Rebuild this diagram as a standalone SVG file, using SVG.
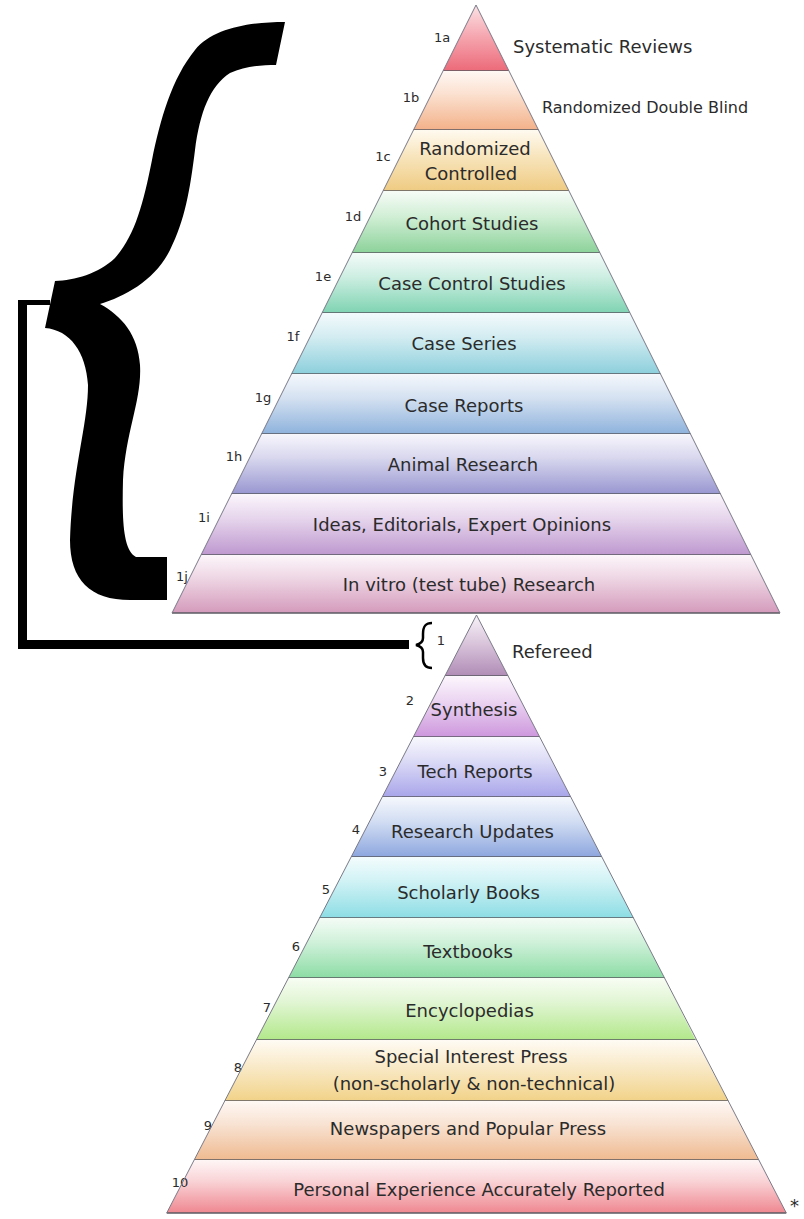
<svg xmlns="http://www.w3.org/2000/svg" width="804" height="1219" viewBox="0 0 804 1219">
<style>
.band{stroke:none}
.sep{stroke:#5a5a62;stroke-width:1.5;fill:none}
.edge{stroke:#7a7a88;stroke-width:1;fill:none}
.lbl{font-family:"DejaVu Sans","Liberation Sans",sans-serif;font-size:18px;fill:#2b2b2b;text-anchor:middle}
.side{font-family:"DejaVu Sans","Liberation Sans",sans-serif;font-size:18px;fill:#2b2b2b}
.num{font-family:"DejaVu Sans","Liberation Sans",sans-serif;font-size:13px;fill:#2b2b2b;text-anchor:middle}
</style>
<defs>
<linearGradient id="g1a" x1="0" y1="0" x2="0" y2="1"><stop offset="0" stop-color="#fbe3e6"/><stop offset="0.45" stop-color="#f6a9b2"/><stop offset="1" stop-color="#ec6a79"/></linearGradient>
<linearGradient id="g1b" x1="0" y1="0" x2="0" y2="1"><stop offset="0" stop-color="#fff8f4"/><stop offset="0.4" stop-color="#fbe0cf"/><stop offset="1" stop-color="#f3b189"/></linearGradient>
<linearGradient id="g1c" x1="0" y1="0" x2="0" y2="1"><stop offset="0" stop-color="#fffaf0"/><stop offset="0.4" stop-color="#f8e6c0"/><stop offset="1" stop-color="#efcb82"/></linearGradient>
<linearGradient id="g1d" x1="0" y1="0" x2="0" y2="1"><stop offset="0" stop-color="#f6fcf7"/><stop offset="0.4" stop-color="#d2efd6"/><stop offset="1" stop-color="#8cd29a"/></linearGradient>
<linearGradient id="g1e" x1="0" y1="0" x2="0" y2="1"><stop offset="0" stop-color="#f4fbf9"/><stop offset="0.4" stop-color="#cdeee2"/><stop offset="1" stop-color="#7fd3b2"/></linearGradient>
<linearGradient id="g1f" x1="0" y1="0" x2="0" y2="1"><stop offset="0" stop-color="#f4fafc"/><stop offset="0.4" stop-color="#d2ecf1"/><stop offset="1" stop-color="#8ccfdc"/></linearGradient>
<linearGradient id="g1g" x1="0" y1="0" x2="0" y2="1"><stop offset="0" stop-color="#f5f8fc"/><stop offset="0.4" stop-color="#d4e1f1"/><stop offset="1" stop-color="#8eb2dc"/></linearGradient>
<linearGradient id="g1h" x1="0" y1="0" x2="0" y2="1"><stop offset="0" stop-color="#f7f6fc"/><stop offset="0.4" stop-color="#d8d7ee"/><stop offset="1" stop-color="#9896d0"/></linearGradient>
<linearGradient id="g1i" x1="0" y1="0" x2="0" y2="1"><stop offset="0" stop-color="#fbf6fc"/><stop offset="0.4" stop-color="#e6d5ec"/><stop offset="1" stop-color="#be98cf"/></linearGradient>
<linearGradient id="g1j" x1="0" y1="0" x2="0" y2="1"><stop offset="0" stop-color="#fcf6fa"/><stop offset="0.4" stop-color="#eed6e4"/><stop offset="1" stop-color="#d49abb"/></linearGradient>
<linearGradient id="g01" x1="0" y1="0" x2="0" y2="1"><stop offset="0" stop-color="#f8f3f9"/><stop offset="0.45" stop-color="#dac6dc"/><stop offset="1" stop-color="#b08cb6"/></linearGradient>
<linearGradient id="g02" x1="0" y1="0" x2="0" y2="1"><stop offset="0" stop-color="#fcf6fd"/><stop offset="0.4" stop-color="#ecd6f2"/><stop offset="1" stop-color="#cd97dd"/></linearGradient>
<linearGradient id="g03" x1="0" y1="0" x2="0" y2="1"><stop offset="0" stop-color="#f8f8fe"/><stop offset="0.4" stop-color="#dcdbf6"/><stop offset="1" stop-color="#a8a5ea"/></linearGradient>
<linearGradient id="g04" x1="0" y1="0" x2="0" y2="1"><stop offset="0" stop-color="#f5f8fd"/><stop offset="0.4" stop-color="#d3def3"/><stop offset="1" stop-color="#8ca6de"/></linearGradient>
<linearGradient id="g05" x1="0" y1="0" x2="0" y2="1"><stop offset="0" stop-color="#f4fcfd"/><stop offset="0.4" stop-color="#d0f2f5"/><stop offset="1" stop-color="#8cdde4"/></linearGradient>
<linearGradient id="g06" x1="0" y1="0" x2="0" y2="1"><stop offset="0" stop-color="#f4fcf6"/><stop offset="0.4" stop-color="#d0f1da"/><stop offset="1" stop-color="#8cdca4"/></linearGradient>
<linearGradient id="g07" x1="0" y1="0" x2="0" y2="1"><stop offset="0" stop-color="#f8fdf4"/><stop offset="0.4" stop-color="#e0f5d2"/><stop offset="1" stop-color="#b2e88a"/></linearGradient>
<linearGradient id="g08" x1="0" y1="0" x2="0" y2="1"><stop offset="0" stop-color="#fffbf4"/><stop offset="0.4" stop-color="#f9ebcc"/><stop offset="1" stop-color="#f1d288"/></linearGradient>
<linearGradient id="g09" x1="0" y1="0" x2="0" y2="1"><stop offset="0" stop-color="#fff8f4"/><stop offset="0.4" stop-color="#f8e2d2"/><stop offset="1" stop-color="#efba90"/></linearGradient>
<linearGradient id="g10" x1="0" y1="0" x2="0" y2="1"><stop offset="0" stop-color="#fff6f6"/><stop offset="0.4" stop-color="#f9d3d6"/><stop offset="1" stop-color="#ef8790"/></linearGradient>
</defs>
<rect x="0" y="0" width="804" height="1219" fill="#ffffff"/>

<g id="big-brace">
<path d="M 285 22 C 250 22, 213 28, 195 50 C 172 78, 160 120, 152 160 C 143 205, 135 235, 115 258 C 98 274, 75 280, 55 281 L 45 328 C 70 330, 86 352, 88 385 C 88 425, 72 470, 70 540 C 70 580, 90 600, 130 600 L 167 600 L 167 557 L 136 557 C 123 550, 122 520, 123 480 C 126 430, 142 400, 140 365 C 138 335, 122 316, 100 304 C 126 296, 155 280, 170 250 C 185 220, 190 190, 195 150 C 200 112, 210 86, 230 73 C 245 66, 262 65, 276 65 Z" fill="#000"/>
</g>

<g id="connectors">
<path d="M 50 302.5 L 20 302.5" stroke="#000" stroke-width="5" fill="none"/>
<path d="M 22.5 300 L 22.5 649 M 18 644.5 L 409 644.5" stroke="#000" stroke-width="9" fill="none"/>
<path d="M 432 623 C 425 623, 423 627, 423 634 L 423 638 C 423 642, 420 644, 416 645 C 420 646, 423 648, 423 652 L 423 658 C 423 664, 425 668, 432 668" stroke="#000" stroke-width="2.5" fill="none"/>
</g>

<g id="top-pyramid">
<g id="n1a"><polygon class="band" fill="url(#g1a)" points="476,5 509,71 443,71"/><line class="sep" x1="443" y1="71" x2="509" y2="71"/><text class="num" x="442" y="42">1a</text><text class="side" x="513" y="53">Systematic Reviews</text></g>
<g id="n1b"><polygon class="band" fill="url(#g1b)" points="443,71 509,71 538.5,130 413.5,130"/><line class="sep" x1="413.5" y1="130" x2="538.5" y2="130"/><text class="num" x="411" y="102">1b</text><text class="side" style="font-size:16px" x="542" y="113">Randomized Double Blind</text></g>
<g id="n1c"><polygon class="band" fill="url(#g1c)" points="413.5,130 538.5,130 569,191 383,191"/><line class="sep" x1="383" y1="191" x2="569" y2="191"/><text class="num" x="383" y="161">1c</text><text class="lbl" x="475" y="155">Randomized</text><text class="lbl" x="471" y="180">Controlled</text></g>
<g id="n1d"><polygon class="band" fill="url(#g1d)" points="383,191 569,191 600,253 352,253"/><line class="sep" x1="352" y1="253" x2="600" y2="253"/><text class="num" x="353" y="221">1d</text><text class="lbl" x="472" y="230">Cohort Studies</text></g>
<g id="n1e"><polygon class="band" fill="url(#g1e)" points="352,253 600,253 630,313 322,313"/><line class="sep" x1="322" y1="313" x2="630" y2="313"/><text class="num" x="323" y="281">1e</text><text class="lbl" x="472" y="290">Case Control Studies</text></g>
<g id="n1f"><polygon class="band" fill="url(#g1f)" points="322,313 630,313 660.5,374 291.5,374"/><line class="sep" x1="291.5" y1="374" x2="660.5" y2="374"/><text class="num" x="293" y="341">1f</text><text class="lbl" x="464" y="350">Case Series</text></g>
<g id="n1g"><polygon class="band" fill="url(#g1g)" points="291.5,374 660.5,374 690.5,434 261.5,434"/><line class="sep" x1="261.5" y1="434" x2="690.5" y2="434"/><text class="num" x="263" y="402">1g</text><text class="lbl" x="464" y="412">Case Reports</text></g>
<g id="n1h"><polygon class="band" fill="url(#g1h)" points="261.5,434 690.5,434 720.5,494 231.5,494"/><line class="sep" x1="231.5" y1="494" x2="720.5" y2="494"/><text class="num" x="234" y="461">1h</text><text class="lbl" x="463" y="471">Animal Research</text></g>
<g id="n1i"><polygon class="band" fill="url(#g1i)" points="231.5,494 720.5,494 751,555 201,555"/><line class="sep" x1="201" y1="555" x2="751" y2="555"/><text class="num" x="204" y="522">1i</text><text class="lbl" x="462" y="531">Ideas, Editorials, Expert Opinions</text></g>
<g id="n1j"><polygon class="band" fill="url(#g1j)" points="201,555 751,555 780,613 172,613"/><line class="sep" x1="172" y1="613" x2="780" y2="613"/><text class="num" x="182" y="581">1j</text><text class="lbl" x="469" y="591">In vitro (test tube) Research</text></g>
<polyline class="edge" points="172,613 476,5 780,613"/>
</g>

<g id="bottom-pyramid">
<g id="n01"><polygon class="band" fill="url(#g01)" points="476.5,615 508.1,676 444.9,676"/><line class="sep" x1="444.9" y1="676" x2="508.1" y2="676"/><text class="num" x="441" y="645">1</text><text class="side" x="512" y="658">Refereed</text></g>
<g id="n02"><polygon class="band" fill="url(#g02)" points="444.9,676 508.1,676 539.7,737 413.3,737"/><line class="sep" x1="413.3" y1="737" x2="539.7" y2="737"/><text class="num" x="410" y="705">2</text><text class="lbl" x="474" y="716">Synthesis</text></g>
<g id="n03"><polygon class="band" fill="url(#g03)" points="413.3,737 539.7,737 570.8,797 382.2,797"/><line class="sep" x1="382.2" y1="797" x2="570.8" y2="797"/><text class="num" x="383" y="776">3</text><text class="lbl" x="475" y="778">Tech Reports</text></g>
<g id="n04"><polygon class="band" fill="url(#g04)" points="382.2,797 570.8,797 601.9,857 351.1,857"/><line class="sep" x1="351.1" y1="857" x2="601.9" y2="857"/><text class="num" x="356" y="834">4</text><text class="lbl" x="472.5" y="838">Research Updates</text></g>
<g id="n05"><polygon class="band" fill="url(#g05)" points="351.1,857 601.9,857 633.5,918 319.5,918"/><line class="sep" x1="319.5" y1="918" x2="633.5" y2="918"/><text class="num" x="326" y="894">5</text><text class="lbl" x="468.5" y="899">Scholarly Books</text></g>
<g id="n06"><polygon class="band" fill="url(#g06)" points="319.5,918 633.5,918 664.5,978 288.5,978"/><line class="sep" x1="288.5" y1="978" x2="664.5" y2="978"/><text class="num" x="296" y="951">6</text><text class="lbl" x="468" y="958">Textbooks</text></g>
<g id="n07"><polygon class="band" fill="url(#g07)" points="288.5,978 664.5,978 695.6,1040 256.4,1040"/><line class="sep" x1="256.4" y1="1040" x2="695.6" y2="1040"/><text class="num" x="267" y="1012">7</text><text class="lbl" x="469.5" y="1017">Encyclopedias</text></g>
<g id="n08"><polygon class="band" fill="url(#g08)" points="256.4,1040 695.6,1040 728.2,1101 224.8,1101"/><line class="sep" x1="224.8" y1="1101" x2="728.2" y2="1101"/><text class="num" x="238" y="1072">8</text><text class="lbl" x="471" y="1063">Special Interest Press</text><text class="lbl" x="474" y="1090">(non-scholarly &amp; non-technical)</text></g>
<g id="n09"><polygon class="band" fill="url(#g09)" points="224.8,1101 728.2,1101 758.8,1160 194.2,1160"/><line class="sep" x1="194.2" y1="1160" x2="758.8" y2="1160"/><text class="num" x="208" y="1130">9</text><text class="lbl" x="468" y="1135">Newspapers and Popular Press</text></g>
<g id="n10"><polygon class="band" fill="url(#g10)" points="194.2,1160 758.8,1160 786.3,1213 166.7,1213"/><line class="sep" x1="166.7" y1="1213" x2="786.3" y2="1213"/><text class="num" x="180" y="1187">10</text><text class="lbl" x="479" y="1196">Personal Experience Accurately Reported</text><text class="side" x="790" y="1212">*</text></g>
<polyline class="edge" points="166.7,1213 476.5,615 786.3,1213"/>
</g>
</svg>
